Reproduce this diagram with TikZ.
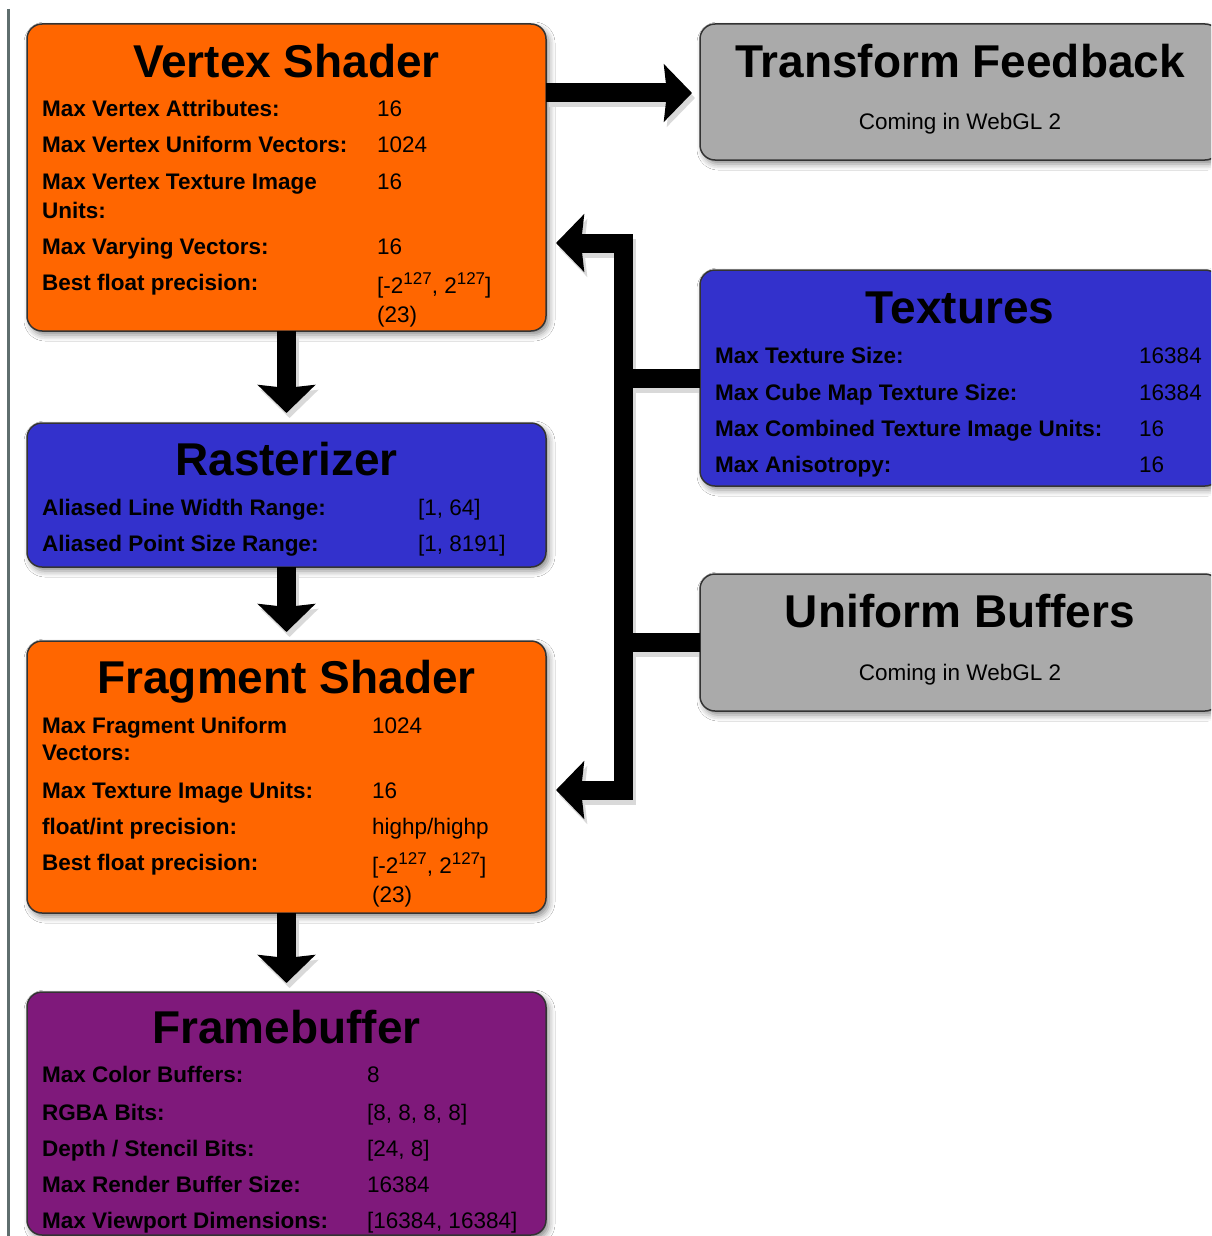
\documentclass[tikz,border=0pt]{standalone}
\usepackage{fontspec}
\setmainfont{Liberation Sans}
\usetikzlibrary{arrows.meta,calc,shadows.blur}
\definecolor{vsorange}{RGB}{255,102,0}
\definecolor{rasblue}{RGB}{51,49,204}
\definecolor{boxgray}{RGB}{170,170,170}
\definecolor{fbpurple}{RGB}{127,25,123}
\definecolor{edgegray}{RGB}{95,110,110}
\newcommand\ttlfont{\fontsize{46}{46}\selectfont\bfseries}
\newcommand\labfont{\fontsize{22.5}{27}\selectfont\bfseries}
\newcommand\valfont{\fontsize{22.5}{27}\selectfont}
\newcommand\supnum[1]{\raisebox{9pt}{\fontsize{17}{17}\selectfont #1}}
\begin{document}
\begin{tikzpicture}[x=1pt,y=-1pt,
  panel/.style={draw=black!80, line width=1.5pt, rounded corners=15pt, anchor=north west,
    minimum width=519pt, inner sep=0pt, outer sep=0pt,
    blur shadow={shadow xshift=3pt,shadow yshift=-4pt,shadow blur radius=6pt,shadow opacity=45}},
  ttl/.style={anchor=base, font=\ttlfont, inner sep=0pt},
  lab/.style={anchor=base west, font=\labfont, inner sep=0pt},
  val/.style={anchor=base west, font=\valfont, inner sep=0pt},
  flow/.style={line width=19pt, -{Stealth[length=28pt,width=57pt,inset=3pt]}},
  bus/.style={line width=19pt, line join=miter},
  twoway/.style={{Stealth[length=28pt,width=57pt,inset=3pt]}-{Stealth[length=28pt,width=57pt,inset=3pt]}},
  ashadow/.style={draw=black!15, transform canvas={shift={(3pt,-5pt)}}},
]
\useasboundingbox (0,0) rectangle (1211,1236);
\fill[white] (0,0) rectangle (1211,1236);
\clip (0,0) rectangle (1211,1236);
\draw[edgegray, line width=2.5pt] (8.7,9) -- (8.7,1236);

% panels
\node[panel, fill=vsorange, minimum height=307pt] (vs) at (27,24) {};
\node[panel, fill=boxgray, minimum width=520pt, minimum height=136pt] (tf) at (700,24) {};
\node[panel, fill=rasblue, minimum height=144pt] (ras) at (27,423) {};
\node[panel, fill=rasblue, minimum width=520pt, minimum height=216pt] (tex) at (700,270) {};
\node[panel, fill=boxgray, minimum width=520pt, minimum height=137pt] (ub) at (700,574) {};
\node[panel, fill=vsorange, minimum height=272pt] (fs) at (27,641) {};
\node[panel, fill=fbpurple, minimum height=243pt] (fb) at (27,992) {};

% connectors
\coordinate (bustop) at (623,243);
\coordinate (busbot) at (623,790);
\coordinate (texjoin) at (623,378);
\coordinate (ubjoin) at (623,642);
% soft shadows of the connectors
\draw[flow, ashadow] ($(vs.north east)+(0,69)$) -- ($(tf.north west)+(-8,69)$);
\draw[flow, ashadow] (vs.south) -- ($(ras.north)+(0,-10)$);
\draw[flow, ashadow] (ras.south) -- ($(fs.north)+(0,-9)$);
\draw[flow, ashadow] (fs.south) -- ($(fb.north)+(0,-9)$);
\draw[bus, ashadow] ($(tex.west |- texjoin)+(-4,0)$) -- (texjoin);
\draw[bus, ashadow] ($(ub.west |- ubjoin)+(-4,0)$) -- (ubjoin);
\draw[bus, twoway, ashadow]
  ($(vs.east |- bustop)+(10,0)$) -- (bustop) -- (busbot) -- ($(fs.east |- busbot)+(10,0)$);
% connectors
\draw[flow] ($(vs.north east)+(0,69)$) -- ($(tf.north west)+(-8,69)$);
\draw[flow] (vs.south) -- ($(ras.north)+(0,-10)$);
\draw[flow] (ras.south) -- ($(fs.north)+(0,-9)$);
\draw[flow] (fs.south) -- ($(fb.north)+(0,-9)$);
\draw[bus] (tex.west |- texjoin) -- (texjoin);
\draw[bus] (ub.west |- ubjoin) -- (ubjoin);
\draw[bus, twoway]
  ($(vs.east |- bustop)+(10,0)$) -- (bustop) -- (busbot) -- ($(fs.east |- busbot)+(10,0)$);

% Vertex Shader
\node[ttl] (vsT) at (286.5,78) {Vertex Shader};
\node[lab] (vs1l) at (42,117) {Max Vertex Attributes:};
\node[val] (vs1v) at (377,117) {16};
\node[lab] (vs2l) at (42,153) {Max Vertex Uniform Vectors:};
\node[val] (vs2v) at (377,153) {1024};
\node[lab] (vs3l) at (42,189) {Max Vertex Texture Image};
\node[lab] (vs3m) at (42,218) {Units:};
\node[val] (vs3v) at (377,189) {16};
\node[lab] (vs4l) at (42,254) {Max Varying Vectors:};
\node[val] (vs4v) at (377,254) {16};
\node[lab] (vs5l) at (42,290) {Best float precision:};
\node[val] (vs5v) at (377,293) {[-2\supnum{127}, 2\supnum{127}]};
\node[val] (vs5w) at (377,322) {(23)};

% Transform Feedback
\node[ttl] (tfT) at (960,78) {Transform Feedback};
\node[val, anchor=base] (tfC) at (960,130) {Coming in WebGL 2};

% Textures
\node[ttl] (texT) at (960,323) {Textures};
\node[lab] (tx1l) at (715,363) {Max Texture Size:};
\node[val] (tx1v) at (1139,363) {16384};
\node[lab] (tx2l) at (715,400) {Max Cube Map Texture Size:};
\node[val] (tx2v) at (1139,400) {16384};
\node[lab] (tx3l) at (715,436) {Max Combined Texture Image Units:};
\node[val] (tx3v) at (1139,436) {16};
\node[lab] (tx4l) at (715,472) {Max Anisotropy:};
\node[val] (tx4v) at (1139,472) {16};

% Uniform Buffers
\node[ttl] (ubT) at (960,627) {Uniform Buffers};
\node[val, anchor=base] (ubC) at (960,680) {Coming in WebGL 2};

% Rasterizer
\node[ttl] (rasT) at (286.5,475) {Rasterizer};
\node[lab] (ra1l) at (42,515) {Aliased Line Width Range:};
\node[val] (ra1v) at (418,515) {[1, 64]};
\node[lab] (ra2l) at (42,551) {Aliased Point Size Range:};
\node[val] (ra2v) at (418,551) {[1, 8191]};

% Fragment Shader
\node[ttl] (fsT) at (286.5,693) {Fragment Shader};
\node[lab] (fs1l) at (42,733) {Max Fragment Uniform};
\node[lab] (fs1m) at (42,760) {Vectors:};
\node[val] (fs1v) at (372,733) {1024};
\node[lab] (fs2l) at (42,798) {Max Texture Image Units:};
\node[val] (fs2v) at (372,798) {16};
\node[lab] (fs3l) at (42,834) {float/int precision:};
\node[val] (fs3v) at (372,834) {highp/highp};
\node[lab] (fs4l) at (42,870) {Best float precision:};
\node[val] (fs4v) at (372,873) {[-2\supnum{127}, 2\supnum{127}]};
\node[val] (fs4w) at (372,902) {(23)};

% Framebuffer
\node[ttl] (fbT) at (286.5,1043) {Framebuffer};
\node[lab] (fb1l) at (42,1082) {Max Color Buffers:};
\node[val] (fb1v) at (367,1082) {8};
\node[lab] (fb2l) at (42,1120) {RGBA Bits:};
\node[val] (fb2v) at (367,1120) {[8, 8, 8, 8]};
\node[lab] (fb3l) at (42,1156) {Depth / Stencil Bits:};
\node[val] (fb3v) at (367,1156) {[24, 8]};
\node[lab] (fb4l) at (42,1192) {Max Render Buffer Size:};
\node[val] (fb4v) at (367,1192) {16384};
\node[lab] (fb5l) at (42,1228) {Max Viewport Dimensions:};
\node[val] (fb5v) at (367,1228) {[16384, 16384]};
\end{tikzpicture}
\end{document}
